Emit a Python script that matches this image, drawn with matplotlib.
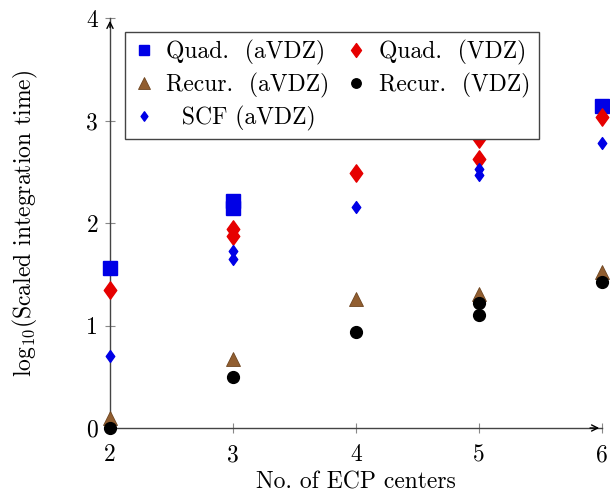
import matplotlib

matplotlib.use("Agg")
import matplotlib.pyplot as plt
from matplotlib.path import Path

plt.rcParams["font.family"] = ["cmr10", "DejaVu Serif"]
plt.rcParams["mathtext.fontset"] = "cm"
plt.rcParams["axes.unicode_minus"] = False

# data (x = number of ECP centers, y = log10 time)
quad_avdz_x = [2, 3, 3, 6]
quad_avdz_y = [1.56, 2.21, 2.15, 3.14]
quad_vdz_x = [2, 3, 3, 4, 5, 5, 6]
quad_vdz_y = [1.35, 1.94, 1.87, 2.49, 2.82, 2.62, 3.03]
recur_avdz_x = [2, 3, 4, 5, 6]
recur_avdz_y = [0.10, 0.67, 1.26, 1.31, 1.52]
recur_vdz_x = [2, 3, 4, 5, 5, 6]
recur_vdz_y = [0.00, 0.50, 0.94, 1.22, 1.10, 1.42]
scf_avdz_x = [2, 3, 3, 4, 5, 5, 6]
scf_avdz_y = [0.70, 1.73, 1.65, 2.16, 2.53, 2.47, 2.78]

xticks = [2, 3, 4, 5, 6]
yticks = [0, 1, 2, 3, 4]

BLUE = "#0000e6"
RED = "#e60000"
BROWN = "#915e30"
FS = 17

# pgf-like diamond: taller than wide
diamond = Path([(0, 1), (0.72, 0), (0, -1), (-0.72, 0), (0, 1)],
               [Path.MOVETO, Path.LINETO, Path.LINETO, Path.LINETO, Path.CLOSEPOLY])

fig = plt.figure(figsize=(6.10, 4.94), dpi=100)
ax = fig.add_axes([110 / 610, 1 - 428 / 494, 492 / 610, 410 / 494])

kw = dict(linestyle="none", clip_on=False, zorder=3)
h_qa, = ax.plot(quad_avdz_x, quad_avdz_y, marker="s", ms=9.5, color=BLUE, mec=BLUE, **kw)
h_qv, = ax.plot(quad_vdz_x, quad_vdz_y, marker=diamond, ms=12.5, color=RED, mec=RED, **kw)
h_ra, = ax.plot(recur_avdz_x, recur_avdz_y, marker="^", ms=10.5, color=BROWN, mec="#6e4520",
                mew=0.6, **kw)
h_rv, = ax.plot(recur_vdz_x, recur_vdz_y, marker="o", ms=8.5, color="black", **kw)
h_scf, = ax.plot(scf_avdz_x, scf_avdz_y, marker=diamond, ms=8.5, color=BLUE, mec=BLUE, **kw)

ax.set_xlim(2, 6)
ax.set_ylim(0, 4)
ax.set_xticks(xticks)
ax.set_yticks(yticks)
ax.tick_params(direction="inout", length=7, width=0.8, color="#888888", labelsize=FS)
ax.tick_params(axis="x", pad=8)
ax.tick_params(axis="y", pad=5)

for s in ("top", "right"):
    ax.spines[s].set_visible(False)
for s in ("left", "bottom"):
    ax.spines[s].set_color("#444444")
    ax.spines[s].set_linewidth(1.0)

# arrow heads on the axis lines
arr = dict(arrowstyle="->", color="black", lw=1.0, mutation_scale=11)
ax.annotate("", xy=(1.0, 0), xytext=(0.97, 0), xycoords="axes fraction",
            arrowprops=arr, annotation_clip=False)
ax.annotate("", xy=(0, 1.0), xytext=(0, 0.97), xycoords="axes fraction",
            arrowprops=arr, annotation_clip=False)

ax.set_xlabel("No. of ECP centers", fontsize=FS, labelpad=4)
ax.set_ylabel(r"log$_{10}$(Scaled integration time)", fontsize=FS, labelpad=33)

leg = ax.legend(
    [h_qa, h_ra, h_scf, h_qv, h_rv],
    ["Quad.  (aVDZ)", "Recur.  (aVDZ)", "  SCF (aVDZ)", "Quad.  (VDZ)", "Recur.  (VDZ)"],
    ncol=2, loc="upper left", bbox_to_anchor=(0.03, 0.966), borderaxespad=0,
    fontsize=FS, frameon=True, fancybox=False, framealpha=1,
    handlelength=0.9, handletextpad=0.5, columnspacing=0.7, labelspacing=0.32,
    borderpad=0.35, markerscale=0.8,
)
leg.get_frame().set_edgecolor("#444444")
leg.get_frame().set_linewidth(1.0)
leg.set_zorder(5)

fig.savefig("out.png", dpi=100)
plt.close(fig)
